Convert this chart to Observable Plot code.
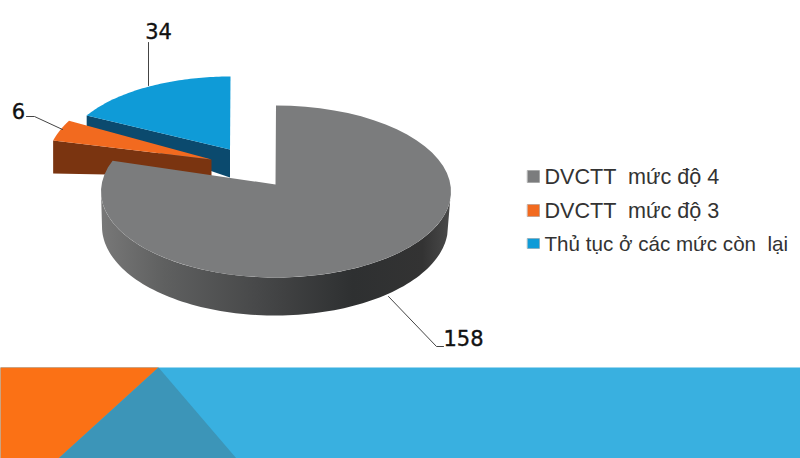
<!DOCTYPE html>
<html><head><meta charset="utf-8">
<style>html,body{margin:0;padding:0;background:#fff;overflow:hidden}svg{display:block}</style>
<script src="https://cdn.jsdelivr.net/npm/d3@7"></script>
<script src="https://cdn.jsdelivr.net/npm/@observablehq/plot@0.6"></script>
</head><body><script>
const categories = ["DVCTT  mức độ 4", "DVCTT  mức độ 3", "Thủ tục ở các mức còn  lại"];
const values = [158, 6, 34];
const topColors = ["#7b7c7d", "#f26a1f", "#0f9bd7"];
const sideColors = ["url(#graySide)", "#7a3410", "#0b4a6e"];

const pie = d3.pie().sort(null).value(d => d)(values);
const deg = Math.PI/180;
// layout of the exploded, perspective-tilted slices (s0/s1: perspective angle correction)
const shapes = [
  {cx:275.5, cy:191, rx:175, ry:86, ax:275, ay:184, bcy:226, brx:173, bry:89, s0:0, s1:3.7*deg},
  {cx:212, cy:165, rx:166, ry:89, ax:211, ay:159, near:17, far:33, s0:-1*deg, s1:2*deg},
  {cx:230, cy:154, rx:166, ry:78, ax:229.5, ay:149, near:28, far:13, s0:1.8*deg, s1:0}
];
const pt = (s,a) => [s.cx + s.rx*Math.sin(a), s.cy - s.ry*Math.cos(a)];
const arc = (s,a0,a1,n=60) => d3.range(n+1).map(i => pt(s, a0+(a1-a0)*i/n));
const poly = (c, fill) => ({type:"Feature", properties:{fill}, geometry:{type:"Polygon", coordinates:[[...c, c[0]]]}});
const line = c => ({type:"LineString", coordinates:c});

function topFace(i){ const s=shapes[i], p=pie[i]; return poly([[s.ax,s.ay],...arc(s,p.startAngle+s.s0,p.endAngle+s.s1)], topColors[i]); }
function graySide(){ const s=shapes[0];
  const a0=Math.PI*0.53, a1=Math.PI*1.5;
  const b={cx:s.cx-1, cy:s.bcy, rx:s.brx, ry:s.bry};
  return poly([...arc(s,a0,a1,100), ...arc(b,a1,a0,100)], sideColors[0]); }
function endSide(i){ const s=shapes[i], p=pie[i];
  const e=pt(s,p.startAngle+s.s0);
  return poly([[s.ax,s.ay],e,[e[0],e[1]+s.far],[s.ax,s.ay+s.near]], sideColors[i]);
}
const bgBlue = [[0,367],[800,367],[800,458],[0,458]];
const bgOrange = [[0,367],[158,367],[58,458],[0,458]];
const bgTeal = [[158,367],[236,458],[58,458]];

const faces = [endSide(2), topFace(2), endSide(1), topFace(1), graySide(), topFace(0)];
const leaders = [line([[148,42],[148,85]]), line([[26,116],[34,116],[62,129]]), line([[388,296],[436,346],[443,346]])];
const valueLabels = [{t:values[0],x:463,y:345},{t:values[1],x:18,y:118},{t:values[2],x:158,y:38}];
const legendY = [183,217,250];
const legendSize = [21.6,21.6,20.6];
const legend = categories.map((c,i)=>({c, color:topColors[i], y:legendY[i], size:legendSize[i]}));
const swatch = (y,h) => poly([[527,y-h],[539,y-h],[539,y],[527,y]]);

const defs = () => { const d=d3.create("svg:defs");
  const g=d.append("linearGradient").attr("id","graySide");
  [[0,"#787878"],[0.18,"#5f6060"],[0.45,"#474849"],[0.72,"#2e3031"],[0.92,"#333"],[1,"#4a4a4a"]]
    .forEach(([o,c])=>g.append("stop").attr("offset",o).attr("stop-color",c));
  return d.node(); };

const plot = Plot.plot({
  width:800, height:458, margin:0, projection:d3.geoIdentity(), style:{background:"#fff"},
  marks:[
    defs,
    Plot.geo([poly(bgBlue)],{fill:"#39b0e0"}),
    Plot.geo([poly(bgOrange)],{fill:"#fb7115"}),
    Plot.geo([poly(bgTeal)],{fill:"#3c95b8"}),
    Plot.geo(faces,{fill:d=>d.properties.fill, stroke:"none"}),
    Plot.geo(leaders,{stroke:"#444", strokeWidth:1, fill:"none"}),
    Plot.text(valueLabels,{x:"x",y:"y",text:d=>String(d.t),fontFamily:"DejaVu Sans",fontSize:21,fill:"#111",stroke:"#111",strokeWidth:0.35,textAnchor:"middle",lineAnchor:"bottom"}),
    Plot.geo(legend.map((d,i)=>{const f=swatch(d.y-(i===2?2:1),i===2?10:12); f.properties={fill:d.color}; return f;}),{fill:d=>d.properties.fill,stroke:"#888",strokeOpacity:0.4}),
    Plot.text(legend,{x:()=>544,y:"y",text:"c",fontFamily:"Liberation Sans",fontSize:d=>d.size,fill:"#333",textAnchor:"start",lineAnchor:"bottom"})
  ]
});
document.body.append(plot);
</script></body></html>
